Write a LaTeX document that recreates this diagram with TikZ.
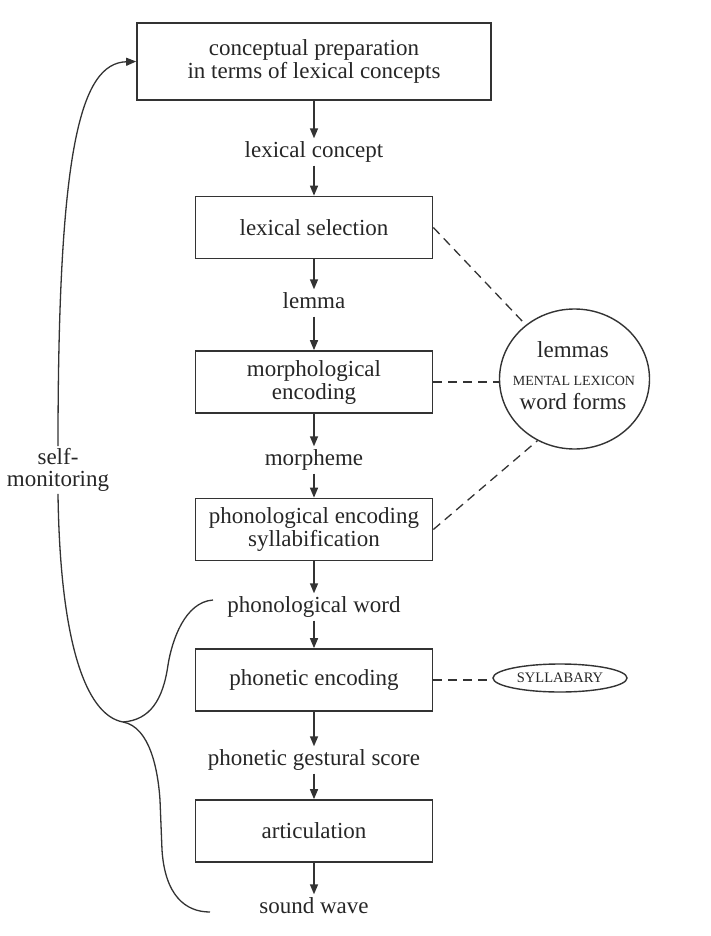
\documentclass[tikz,border=0pt]{standalone}
\usepackage{fontspec}
\setmainfont{Liberation Serif}
\usetikzlibrary{arrows.meta,shapes.geometric}
\newcommand{\dgfont}{\fontsize{23}{23}\selectfont}
\newcommand{\dgsmall}{\fontsize{14}{14}\selectfont}
\begin{document}
\begin{tikzpicture}[x=1pt,y=-1pt,
  box/.style={draw=black!80,line width=1.7pt,minimum width=237pt,minimum height=62pt,align=center,inner sep=2pt,font=\dgfont,text=black!85},
  lbl/.style={text height=16pt,text depth=5pt,inner sep=3pt,font=\dgfont,text=black!85},
  flow/.style={draw=black!80,line width=1.5pt,-{Triangle[length=10pt,width=8pt]}},
  link/.style={draw=black!80,line width=1.3pt,dash pattern=on 9pt off 6pt},
  fb/.style={draw=black!80,line width=1.3pt},
  store/.style={draw=black!80,line width=1.4pt,ellipse,inner sep=0pt}
]
\useasboundingbox (0,0) rectangle (710,936);

% main chain
\node[box,minimum width=354pt,minimum height=77pt] (b1) at (314,61.5) {conceptual preparation\\in terms of lexical concepts};
\node[lbl] (lc) at (314,152) {lexical concept};
\node[box] (b2) at (314,227.5) {lexical selection};
\node[lbl] (lem) at (314,303) {lemma};
\node[box] (b3) at (314,382) {morphological\\encoding};
\node[lbl] (mor) at (314,460) {morpheme};
\node[box] (b4) at (314,529.5) {phonological encoding\\syllabification};
\node[lbl] (pw) at (314,607) {phonological word};
\node[box] (b5) at (314,680) {phonetic encoding};
\node[lbl] (pgs) at (314,760) {phonetic gestural score};
\node[box] (b6) at (314,831) {articulation};
\node[lbl] (sw) at (314,908) {sound wave};

\draw[flow] (b1.south) -- (lc.north);
\draw[flow] (lc.south) -- (b2.north);
\draw[flow] (b2.south) -- (lem.north);
\draw[flow] (lem.south) -- (b3.north);
\draw[flow] (b3.south) -- (mor.north);
\draw[flow] (mor.south) -- (b4.north);
\draw[flow] (b4.south) -- (pw.north);
\draw[flow] (pw.south) -- (b5.north);
\draw[flow] (b5.south) -- (pgs.north);
\draw[flow] (pgs.south) -- (b6.north);
\draw[flow] (b6.south) -- (sw.north);

% mental lexicon
\node[store,minimum width=150pt,minimum height=140pt] (lex) at (574.5,379) {};
\node[lbl] (lexA) at (573,352) {lemmas};
\node[font=\dgsmall,text=black!85,inner sep=1pt] (lexB) at (574,381) {MENTAL LEXICON};
\node[lbl] (lexC) at (573,404) {word forms};

\draw[link] (b2.east) -- (lex.132);
\draw[link] (b3.east) -- (b3.east -| lex.west);
\draw[link] (b4.east) -- (lex.239);

% syllabary
\node[store,minimum width=134pt,minimum height=28pt,font=\fontsize{14.5}{14.5}\selectfont,text=black!85] (syl) at (560,678) {SYLLABARY};
\draw[link] (b5.east) -- (b5.east -| syl.west);

% self-monitoring
\node[align=center,inner sep=2pt,font=\fontsize{23}{22}\selectfont,text=black!85] (sm) at (58,470) {self-\\monitoring};
\coordinate (J) at (123,722);
\coordinate (pwL) at (213,600);
\coordinate (swL) at (210,912);

\draw[fb,-{Triangle[length=10pt,width=8pt]}] (sm.north) .. controls (58,150) and (80,63) .. (b1.west);
\draw[fb] (sm.south) .. controls (60,640) and (85,715) .. (J)
  .. controls (150,727) and (158,770) .. (160,800) -- (162,850)
  .. controls (165,895) and (185,912) .. (swL);
\draw[fb] (pwL) .. controls (185,602) and (172,640) .. (168,665)
  .. controls (163,700) and (150,720) .. (J);
\end{tikzpicture}
\end{document}
